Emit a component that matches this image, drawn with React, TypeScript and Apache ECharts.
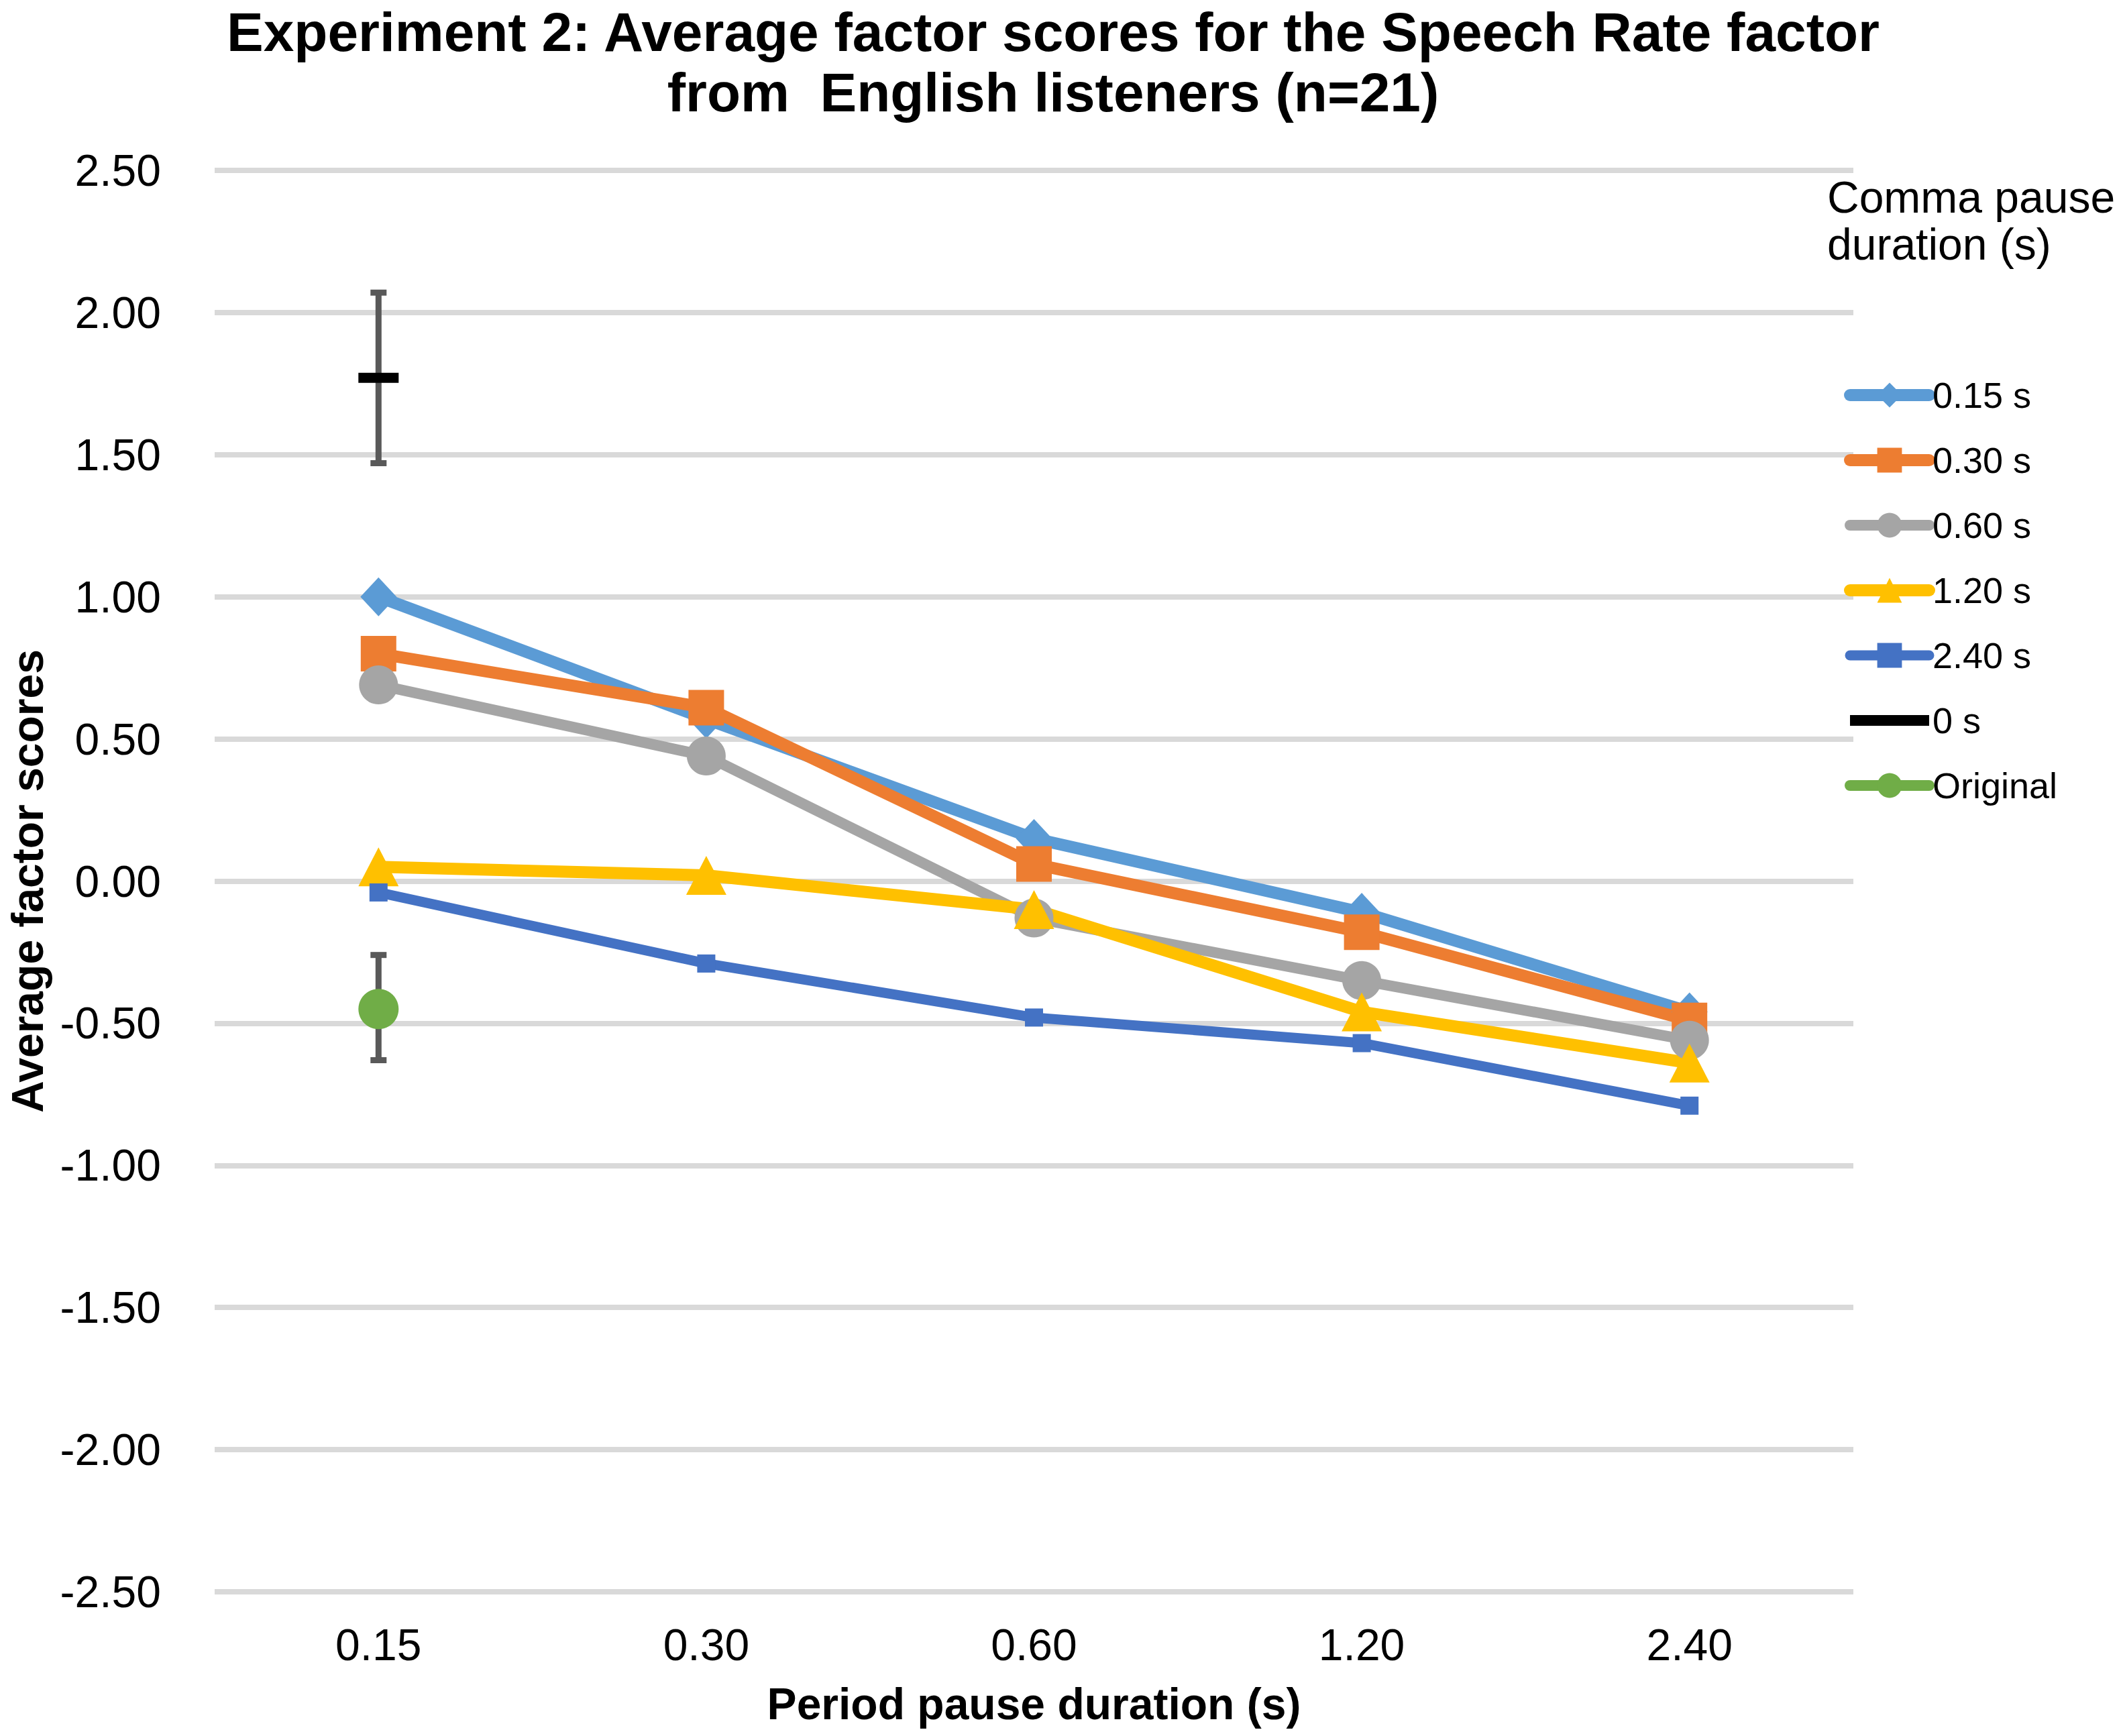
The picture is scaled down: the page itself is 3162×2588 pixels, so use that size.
import React, { useEffect, useRef } from 'react';
import * as echarts from 'echarts';

const FONT = '"Liberation Sans", Arial, sans-serif';

const titleLine1 = 'Experiment 2: Average factor scores for the Speech Rate factor';
const titleLine2 = 'from  English listeners (n=21)';
const categories = ['0.15', '0.30', '0.60', '1.20', '2.40'];
const comma015 = [1.0, 0.57, 0.15, -0.11, -0.46];
const comma030 = [0.8, 0.61, 0.06, -0.18, -0.49];
const comma060 = [0.69, 0.44, -0.13, -0.35, -0.56];
const comma120 = [0.05, 0.02, -0.1, -0.46, -0.64];
const comma240 = [-0.04, -0.29, -0.48, -0.57, -0.79];
const zeroSec = [1.77, null, null, null, null];
const zeroSecErr = [[0, 1.47, 2.07]];
const original = [-0.45, null, null, null, null];
const originalErr = [[0, -0.63, -0.26]];
const seriesNames = ['0.15 s', '0.30 s', '0.60 s', '1.20 s', '2.40 s', '0 s', 'Original'];
const yMin = -2.5;
const yMax = 2.5;
const yStep = 0.5;

function errorBarRender(params: any, api: any) {
  const x = api.value(0);
  const lo = api.coord([x, api.value(1)]);
  const hi = api.coord([x, api.value(2)]);
  const cx = lo[0];
  const half = 12;
  const style = { stroke: '#595959', lineWidth: 9 };
  return {
    type: 'group',
    children: [
      { type: 'line', shape: { x1: cx, y1: lo[1], x2: cx, y2: hi[1] }, style },
      { type: 'line', shape: { x1: cx - half, y1: lo[1], x2: cx + half, y2: lo[1] }, style },
      { type: 'line', shape: { x1: cx - half, y1: hi[1], x2: cx + half, y2: hi[1] }, style },
    ],
  };
}

function lineSeries(name: string, data: any[], color: string, width: number, symbol: string, size: any) {
  return {
    name,
    type: 'line',
    data,
    z: 3,
    symbol,
    symbolSize: size,
    showAllSymbol: true,
    connectNulls: false,
    itemStyle: { color },
    lineStyle: { color, width },
    emphasis: { disabled: true },
  };
}

export default function App() {
  const ref = useRef<HTMLDivElement>(null);
  useEffect(() => {
    document.body.style.margin = '0';
    document.body.style.overflow = 'hidden';
    const chart = echarts.init(ref.current as HTMLDivElement, null, { renderer: 'svg' });
    const titleStyle = { fontSize: 82, fontWeight: 'bold', color: '#000', lineHeight: 82, fontFamily: FONT };
    chart.setOption({
      animation: false,
      backgroundColor: '#ffffff',
      title: {
        text: titleLine1,
        subtext: titleLine2,
        left: 1570,
        top: 6,
        textAlign: 'center',
        padding: 0,
        itemGap: 8,
        textStyle: titleStyle,
        subtextStyle: titleStyle,
      },
      graphic: [
        {
          type: 'text',
          left: 2724,
          top: 259,
          style: {
            text: 'Comma pause\nduration (s)',
            fontSize: 66,
            fontFamily: FONT,
            fill: '#000',
            lineHeight: 70,
          },
        },
      ],
      legend: {
        orient: 'vertical',
        left: 2749,
        top: 562,
        padding: 0,
        itemWidth: 118,
        itemHeight: 46,
        itemGap: 43,
        selectedMode: false,
        textStyle: { fontSize: 54, fontFamily: FONT, color: '#000' },
        lineStyle: { width: 'inherit', cap: 'round' },
        data: [
          { name: seriesNames[0] },
          { name: seriesNames[1] },
          { name: seriesNames[2] },
          { name: seriesNames[3] },
          { name: seriesNames[4] },
          { name: seriesNames[5], icon: 'path://M0,0L118,0L118,16L0,16Z' },
          { name: seriesNames[6] },
        ],
      },
      grid: { left: 315, right: 399, top: 254, bottom: 215, containLabel: false },
      xAxis: {
        type: 'category',
        data: categories,
        boundaryGap: true,
        axisLine: { show: false },
        axisTick: { show: false },
        splitLine: { show: false },
        axisLabel: { fontSize: 66, fontFamily: FONT, color: '#000', margin: 46, lineHeight: 66 },
        name: 'Period pause duration (s)',
        nameLocation: 'middle',
        nameGap: 134,
        nameTextStyle: { fontSize: 66, fontWeight: 'bold', fontFamily: FONT, color: '#000', lineHeight: 66 },
      },
      yAxis: {
        type: 'value',
        min: yMin,
        max: yMax,
        interval: yStep,
        axisLine: { show: false },
        axisTick: { show: false },
        splitLine: { show: true, lineStyle: { color: '#D9D9D9', width: 8 } },
        axisLabel: {
          fontSize: 66,
          fontFamily: FONT,
          color: '#000',
          margin: 80,
          formatter: (v: number) => v.toFixed(2),
        },
        name: 'Average factor scores',
        nameLocation: 'middle',
        nameGap: 246,
        nameTextStyle: { fontSize: 66, fontWeight: 'bold', fontFamily: FONT, color: '#000', lineHeight: 66 },
      },
      series: [
        {
          type: 'custom',
          name: 'err0',
          z: 1,
          data: zeroSecErr,
          encode: { x: 0, y: [1, 2] },
          renderItem: errorBarRender,
          silent: true,
        },
        {
          type: 'custom',
          name: 'errOrig',
          z: 1,
          data: originalErr,
          encode: { x: 0, y: [1, 2] },
          renderItem: errorBarRender,
          silent: true,
        },
        lineSeries(seriesNames[0], comma015, '#5B9BD5', 18, 'diamond', [54, 58]),
        lineSeries(seriesNames[1], comma030, '#ED7D31', 18, 'rect', 53),
        lineSeries(seriesNames[2], comma060, '#A5A5A5', 16, 'circle', 58),
        lineSeries(seriesNames[3], comma120, '#FFC000', 18, 'triangle', [60, 58]),
        lineSeries(seriesNames[4], comma240, '#4472C4', 15, 'rect', 27),
        lineSeries(seriesNames[5], zeroSec, '#000000', 16, 'rect', [60, 15]),
        lineSeries(seriesNames[6], original, '#70AD47', 16, 'circle', 60),
      ],
    });
    return () => chart.dispose();
  }, []);
  return <div ref={ref} style={{ width: 3162, height: 2588 }} />;
}
